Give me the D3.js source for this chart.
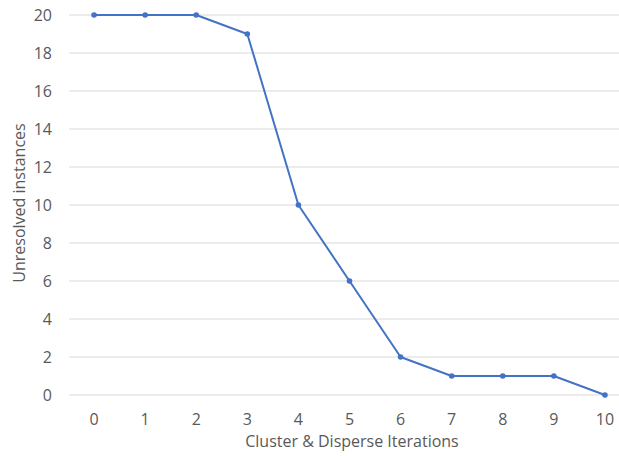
<!DOCTYPE html>
<html>
<head>
<meta charset="utf-8">
<script src="https://cdn.jsdelivr.net/npm/d3@7"></script>
<style>
  body { margin: 0; background: #fff; }
  text { font-family: "Open Sans", sans-serif; fill: #595959; }
</style>
</head>
<body>
<script>
const iterations = ['0', '1', '2', '3', '4', '5', '6', '7', '8', '9', '10']
const unresolved = [20, 20, 20, 19, 10, 6, 2, 1, 1, 1, 0]
const yTicks = [0, 2, 4, 6, 8, 10, 12, 14, 16, 18, 20]

const W = 619, H = 456
const svg = d3.select('body').append('svg')
    .attr('width', W)
    .attr('height', H)

// band scale runs a little past the right edge, like the original
const x = d3.scaleBand()
    .domain(iterations)
    .range([68.5, 630.5])

const y = d3.scaleLinear()
    .domain([0, 20])
    .range([395, 15])

// gridlines
svg.append('g')
    .selectAll('line')
    .data(yTicks)
    .join('line')
    .attr('x1', 69)
    .attr('x2', W)
    .attr('y1', d => y(d))
    .attr('y2', d => y(d))
    .attr('stroke', '#d9d9d9')
    .attr('stroke-width', 1)

// y tick labels
svg.append('g')
    .selectAll('text')
    .data(yTicks)
    .join('text')
    .attr('x', 52)
    .attr('y', d => y(d))
    .attr('dy', '0.36em')
    .attr('text-anchor', 'end')
    .attr('font-size', 16)
    .text(d => d)

// x tick labels
svg.append('g')
    .selectAll('text')
    .data(iterations)
    .join('text')
    .attr('x', d => x(d) + x.bandwidth() / 2)
    .attr('y', 425)
    .attr('text-anchor', 'middle')
    .attr('font-size', 16)
    .text(d => d)

// axis titles
svg.append('text')
    .attr('x', 352)
    .attr('y', 447)
    .attr('text-anchor', 'middle')
    .attr('font-size', 16)
    .text('Cluster & Disperse Iterations')

svg.append('text')
    .attr('transform', 'translate(25,203) rotate(-90)')
    .attr('text-anchor', 'middle')
    .attr('font-size', 16)
    .text('Unresolved instances')

const line = d3.line()
    .x((d, i) => x(iterations[i]) + x.bandwidth() / 2)
    .y(d => y(d))

svg.append('path')
    .datum(unresolved)
    .attr('d', line)
    .attr('fill', 'none')
    .attr('stroke', '#4472c4')
    .attr('stroke-width', 2)
    .attr('stroke-linejoin', 'round')

svg.append('g')
    .selectAll('circle')
    .data(unresolved)
    .join('circle')
    .attr('cx', (d, i) => x(iterations[i]) + x.bandwidth() / 2)
    .attr('cy', d => y(d))
    .attr('r', 2.8)
    .attr('fill', '#4472c4')
</script>
</body>
</html>
